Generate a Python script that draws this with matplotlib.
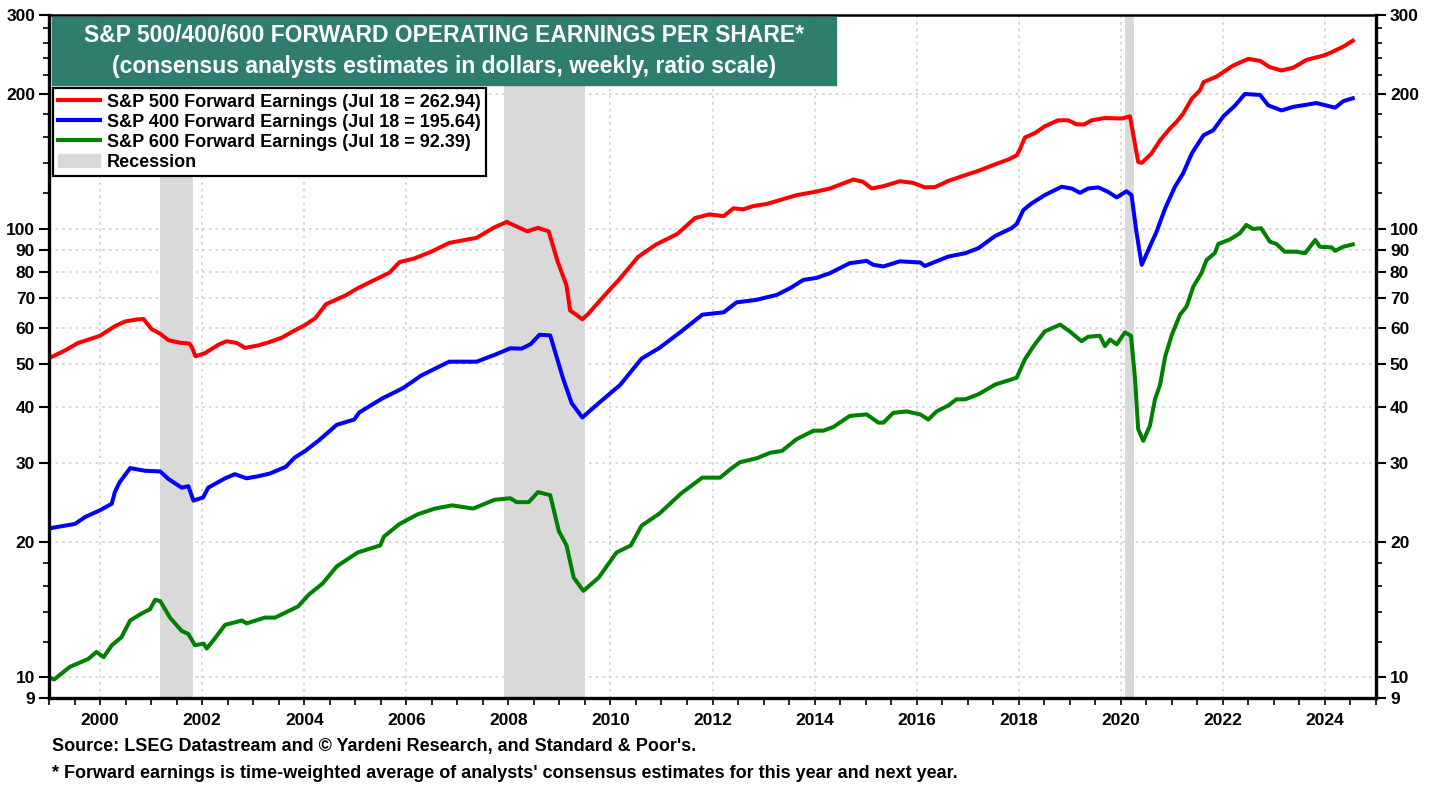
import matplotlib
matplotlib.use("Agg")
import matplotlib.pyplot as plt
from matplotlib.lines import Line2D
from matplotlib.patches import Patch, Rectangle
from matplotlib.ticker import FixedLocator, NullFormatter

plt.rcParams['font.family'] = ['Liberation Sans', 'DejaVu Sans']
plt.rcParams['font.weight'] = 'bold'

# ---------------- data (decimal years, dollars) ----------------
sp500_t = [1999.00, 1999.30, 1999.57, 1999.80, 2000.00, 2000.29, 2000.49, 2000.70, 2000.85, 2001.01,
           2001.18, 2001.34, 2001.55, 2001.75, 2001.80, 2001.87, 2002.06, 2002.32, 2002.48, 2002.68,
           2002.84, 2003.10, 2003.33, 2003.57, 2003.80, 2004.02, 2004.22, 2004.43, 2004.81, 2005.05,
           2005.39, 2005.67, 2005.87, 2006.15, 2006.49, 2006.84, 2007.38, 2007.73, 2007.97, 2008.02,
           2008.37, 2008.58, 2008.79, 2008.96, 2009.14, 2009.21, 2009.32, 2009.45, 2009.56, 2009.84,
           2010.19, 2010.54, 2010.89, 2011.31, 2011.66, 2011.94, 2012.22, 2012.41, 2012.60, 2012.80,
           2013.06, 2013.32, 2013.65, 2014.01, 2014.30, 2014.76, 2014.95, 2015.12, 2015.35, 2015.67,
           2015.93, 2016.16, 2016.36, 2016.62, 2016.95, 2017.21, 2017.54, 2017.80, 2017.96, 2018.03,
           2018.12, 2018.32, 2018.51, 2018.77, 2018.97, 2019.13, 2019.28, 2019.43, 2019.69, 2020.02,
           2020.18, 2020.34, 2020.41, 2020.60, 2020.77, 2020.96, 2021.09, 2021.22, 2021.39, 2021.55,
           2021.62, 2021.88, 2022.20, 2022.50, 2022.73, 2022.92, 2023.15, 2023.38, 2023.64, 2023.97,
           2024.13, 2024.36, 2024.545]
sp500_v = [51.5, 53.5, 55.7, 56.8, 57.8, 60.7, 62.2, 62.8, 63.0, 59.8,
           58.4, 56.5, 55.8, 55.5, 54.5, 52.0, 52.9, 55.2, 56.2, 55.7,
           54.3, 55.0, 56.0, 57.3, 59.3, 61.1, 63.3, 68.0, 71.1, 73.8,
           77.1, 79.9, 84.4, 85.9, 89.0, 93.1, 95.6, 100.9, 103.7, 103.0,
           98.8, 100.6, 98.8, 85.0, 74.8, 65.8, 64.5, 62.9, 64.6, 70.2,
           77.6, 86.6, 92.3, 97.5, 105.8, 107.8, 106.8, 111.2, 110.6, 112.5,
           113.7, 116.0, 119.0, 121.0, 123.1, 128.9, 127.4, 123.1, 124.6, 127.8,
           126.7, 123.8, 124.0, 128.0, 131.8, 134.8, 139.4, 142.9, 146.0, 151.1,
           159.9, 163.7, 169.4, 174.7, 174.7, 171.2, 171.0, 174.7, 176.8, 176.3,
           178.3, 141.1, 140.4, 147.3, 157.7, 167.4, 173.2, 180.7, 195.2, 203.7,
           212.5, 218.8, 231.4, 239.5, 237.0, 229.5, 225.6, 229.0, 238.3, 243.6,
           247.8, 255.0, 262.94]

sp400_t = [1999.00, 1999.51, 1999.71, 2000.00, 2000.23, 2000.29, 2000.38, 2000.59, 2000.88, 2001.18,
           2001.34, 2001.60, 2001.73, 2001.83, 2002.02, 2002.12, 2002.45, 2002.64, 2002.87, 2003.10,
           2003.33, 2003.64, 2003.81, 2004.02, 2004.29, 2004.64, 2004.98, 2005.08, 2005.53, 2005.94,
           2006.29, 2006.84, 2007.38, 2007.73, 2008.04, 2008.26, 2008.44, 2008.61, 2008.82, 2009.07,
           2009.24, 2009.45, 2009.77, 2010.19, 2010.61, 2010.96, 2011.38, 2011.80, 2012.22, 2012.47,
           2012.86, 2013.26, 2013.52, 2013.78, 2014.04, 2014.30, 2014.69, 2015.02, 2015.15, 2015.35,
           2015.67, 2016.07, 2016.16, 2016.62, 2016.95, 2017.21, 2017.54, 2017.86, 2017.96, 2018.09,
           2018.25, 2018.51, 2018.84, 2019.04, 2019.20, 2019.36, 2019.56, 2019.75, 2019.92, 2020.11,
           2020.21, 2020.31, 2020.41, 2020.54, 2020.70, 2020.87, 2021.06, 2021.22, 2021.39, 2021.62,
           2021.81, 2022.01, 2022.24, 2022.43, 2022.73, 2022.89, 2023.15, 2023.38, 2023.64, 2023.83,
           2024.20, 2024.36, 2024.545]
sp400_v = [21.5, 22.0, 22.8, 23.6, 24.4, 25.9, 27.2, 29.3, 28.9, 28.8,
           27.7, 26.5, 26.7, 24.8, 25.2, 26.5, 27.8, 28.4, 27.8, 28.1,
           28.5, 29.5, 30.9, 32.0, 33.8, 36.6, 37.6, 39.0, 41.9, 44.2,
           47.1, 50.6, 50.6, 52.4, 54.2, 54.1, 55.4, 58.1, 57.9, 46.5,
           40.9, 38.0, 40.9, 44.9, 51.4, 54.3, 59.0, 64.4, 65.2, 68.6,
           69.5, 71.3, 73.8, 77.0, 77.8, 79.7, 83.9, 84.9, 83.2, 82.5,
           84.7, 84.2, 82.7, 86.8, 88.3, 90.6, 96.5, 100.4, 102.6, 110.2,
           114.0, 119.0, 124.2, 123.1, 120.4, 123.1, 123.8, 121.0, 117.6, 121.4,
           119.0, 97.8, 83.2, 89.8, 98.6, 111.2, 124.2, 133.0, 147.3, 161.8,
           166.0, 178.3, 188.6, 200.0, 199.0, 188.6, 183.8, 187.2, 189.3, 190.9,
           186.4, 192.8, 195.64]

sp600_t = [1999.00, 1999.10, 1999.41, 1999.77, 1999.93, 2000.07, 2000.23, 2000.42, 2000.59, 2000.82,
           2000.98, 2001.08, 2001.18, 2001.37, 2001.60, 2001.73, 2001.86, 2002.03, 2002.09, 2002.22,
           2002.45, 2002.78, 2002.87, 2003.23, 2003.43, 2003.88, 2004.09, 2004.36, 2004.64, 2005.05,
           2005.49, 2005.56, 2005.87, 2006.22, 2006.56, 2006.90, 2007.31, 2007.73, 2008.04, 2008.16,
           2008.40, 2008.58, 2008.82, 2008.99, 2009.14, 2009.28, 2009.47, 2009.77, 2010.12, 2010.40,
           2010.61, 2010.96, 2011.38, 2011.80, 2012.15, 2012.36, 2012.54, 2012.86, 2013.13, 2013.36,
           2013.65, 2013.98, 2014.17, 2014.37, 2014.69, 2015.02, 2015.25, 2015.35, 2015.54, 2015.80,
           2016.07, 2016.23, 2016.39, 2016.62, 2016.78, 2016.95, 2017.21, 2017.54, 2017.86, 2017.96,
           2018.12, 2018.29, 2018.51, 2018.81, 2019.00, 2019.23, 2019.36, 2019.59, 2019.69, 2019.79,
           2019.92, 2020.08, 2020.20, 2020.28, 2020.34, 2020.44, 2020.57, 2020.67, 2020.77, 2020.87,
           2021.00, 2021.16, 2021.29, 2021.42, 2021.58, 2021.68, 2021.84, 2021.91, 2022.14, 2022.33,
           2022.46, 2022.59, 2022.75, 2022.92, 2023.05, 2023.21, 2023.44, 2023.61, 2023.81, 2023.90,
           2024.13, 2024.20, 2024.36, 2024.545]
sp600_v = [10.0, 9.9, 10.56, 11.0, 11.4, 11.1, 11.8, 12.3, 13.4, 13.9,
           14.2, 14.9, 14.8, 13.6, 12.7, 12.5, 11.8, 11.9, 11.6, 12.1,
           13.1, 13.4, 13.2, 13.6, 13.6, 14.4, 15.3, 16.2, 17.7, 19.0,
           19.7, 20.6, 22.0, 23.1, 23.8, 24.2, 23.8, 24.9, 25.1, 24.6,
           24.6, 25.9, 25.5, 21.2, 19.7, 16.7, 15.6, 16.7, 19.0, 19.7,
           21.8, 23.2, 25.7, 27.9, 27.9, 29.2, 30.2, 30.8, 31.7, 32.0,
           34.0, 35.5, 35.5, 36.2, 38.3, 38.6, 37.0, 37.0, 38.9, 39.2,
           38.6, 37.6, 39.2, 40.4, 41.7, 41.7, 42.8, 45.0, 46.2, 46.6,
           51.2, 54.8, 59.1, 61.2, 59.1, 56.2, 57.5, 57.8, 54.8, 56.7,
           55.3, 58.8, 57.8, 46.2, 35.8, 33.7, 36.4, 41.7, 45.0, 52.0,
           58.1, 64.4, 67.2, 74.4, 79.7, 85.3, 88.3, 92.6, 94.8, 97.8,
           102.1, 100.0, 100.4, 93.7, 92.6, 89.0, 89.0, 88.3, 94.5, 91.3,
           91.0, 89.4, 91.3, 92.39]

recessions = [(2001.17, 2001.83), (2007.92, 2009.50), (2020.08, 2020.25)]

series_labels = ["S&P 500 Forward Earnings (Jul 18 = 262.94)",
                 "S&P 400 Forward Earnings (Jul 18 = 195.64)",
                 "S&P 600 Forward Earnings (Jul 18 = 92.39)"]
series_colors = ["#FF0000", "#0000FF", "#008000"]

ytick_vals = [9, 10, 20, 30, 40, 50, 60, 70, 80, 90, 100, 200, 300]
ytick_minor = [12, 14, 16, 18, 120, 140, 160, 180, 220, 240, 260, 280]
xtick_years = list(range(2000, 2025, 2))

title_lines = ["S&P 500/400/600 FORWARD OPERATING EARNINGS PER SHARE*",
               "(consensus analysts estimates in dollars, weekly, ratio scale)"]
footer_lines = ["Source: LSEG Datastream and \u00a9 Yardeni Research, and Standard & Poor's.",
                "* Forward earnings is time-weighted average of analysts' consensus estimates for this year and next year."]

# ---------------- figure ----------------
W, H = 1438, 790
fig = plt.figure(figsize=(W / 100, H / 100), dpi=100)
ax = fig.add_axes([49 / W, 1 - 698 / H, (1376 - 49) / W, (698 - 15) / H])

for (a, b) in recessions:
    ax.axvspan(a, b, color="#D9D9D9", lw=0, zorder=1)

for t, v, c in zip([sp500_t, sp400_t, sp600_t], [sp500_v, sp400_v, sp600_v], series_colors):
    ax.plot(t, v, color=c, lw=2.9, zorder=3, solid_joinstyle='round')

ax.set_yscale('log')
ax.set_ylim(9, 300)
ax.set_xlim(1999.0, 2025.0)

ax.yaxis.set_major_locator(FixedLocator(ytick_vals))
ax.yaxis.set_minor_locator(FixedLocator(ytick_minor))
ax.set_yticklabels([str(v) for v in ytick_vals])
ax.yaxis.set_minor_formatter(NullFormatter())

ax.xaxis.set_major_locator(FixedLocator(xtick_years))
ax.set_xticklabels([str(y) for y in xtick_years])
ax.xaxis.set_minor_locator(FixedLocator([1999 + 0.5 * i for i in range(53)]))

ax.tick_params(axis='y', which='major', direction='out', length=7, width=1.5,
               left=True, right=True, labelleft=True, labelright=True, labelsize=12.5, pad=3)
ax.tick_params(axis='y', which='minor', direction='out', length=4, width=1.2, left=True, right=True)
ax.tick_params(axis='x', which='both', direction='out', length=5, width=1.2, labelsize=12.5, pad=6)

for lab in ax.get_xticklabels() + ax.get_yticklabels():
    lab.set_fontweight('bold')

for v in ytick_vals[1:-1]:
    ax.axhline(v, color="#CFCFCF", lw=1.2, ls=(0, (1.5, 2.5)), zorder=0.5)
for y in xtick_years:
    ax.axvline(y, color="#CFCFCF", lw=1.2, ls=(0, (1.5, 2.5)), zorder=0.5)

for s in ['left', 'right', 'bottom']:
    ax.spines[s].set_linewidth(2.4)
ax.spines['top'].set_linewidth(1.8)
for s in ax.spines.values():
    s.set_zorder(5)

# title box
fig.patches.append(Rectangle((52 / W, 1 - 85 / H), (836 - 52) / W, (85 - 17) / H,
                             transform=fig.transFigure, facecolor="#2E7D6E",
                             edgecolor="#2E7D6E", zorder=6))
fig.text(444 / W, 1 - 36 / H, title_lines[0], color='white', fontsize=16.5, fontweight='bold',
         ha='center', va='center', zorder=7)
fig.text(444 / W, 1 - 67 / H, title_lines[1], color='white', fontsize=16.5, fontweight='bold',
         ha='center', va='center', zorder=7)

# legend
handles = [Line2D([0], [0], color=c, lw=3) for c in series_colors]
handles.append(Patch(facecolor="#D9D9D9", edgecolor="#D9D9D9"))
labels = series_labels + ["Recession"]
leg = ax.legend(handles, labels, loc='upper left', bbox_to_anchor=(53 / W, 1 - 88 / H),
                bbox_transform=fig.transFigure, frameon=True, fancybox=False,
                edgecolor='black', framealpha=1, borderaxespad=0, borderpad=0.3,
                handlelength=2.3, handleheight=0.8, handletextpad=0.4, labelspacing=0.16,
                prop={'weight': 'bold', 'size': 13})
leg.get_frame().set_linewidth(1.6)
leg.set_zorder(8)

fig.text(52 / W, 1 - 747 / H, footer_lines[0], fontsize=13, fontweight='bold', ha='left', va='center')
fig.text(52 / W, 1 - 773 / H, footer_lines[1], fontsize=13, fontweight='bold', ha='left', va='center')

fig.savefig("out.png", dpi=100)
